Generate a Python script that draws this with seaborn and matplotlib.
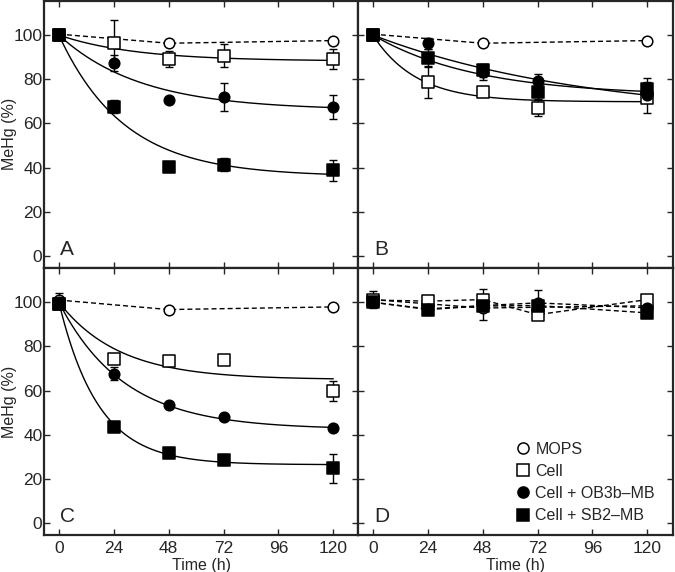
import numpy as np
import pandas as pd
import matplotlib
matplotlib.use("Agg")
import matplotlib.pyplot as plt
from matplotlib.lines import Line2D
import seaborn as sns

# ---------------- data ----------------
T_ALL = [0, 24, 48, 72, 120]
T_MOPS = [0, 48, 120]
PANELS = ["A", "B", "C", "D"]
SERIES = ["MOPS", "Cell", "Cell + OB3b\u2013MB", "Cell + SB2\u2013MB"]

# measured values (%), per panel
mops_A = [100.4, 96.3, 97.5]
cell_A = [100.0, 96.3, 89.3, 90.7, 89.3]
ob3b_A = [100.0, 87.4, 70.7, 72.0, 67.3]
sb2_A = [100.0, 67.6, 40.3, 41.4, 38.8]
mops_A_err = [0, 0, 0]
cell_A_err = [0, 10.5, 3.6, 5.1, 4.5]
ob3b_A_err = [0, 3.7, 0, 6.5, 5.5]
sb2_A_err = [0, 3.0, 0, 3.0, 4.8]

mops_B = [100.4, 96.3, 97.5]
cell_B = [100.0, 78.7, 74.2, 67.1, 71.6]
ob3b_B = [100.0, 96.3, 83.2, 79.0, 73.0]
sb2_B = [100.0, 89.7, 84.0, 74.2, 75.4]
mops_B_err = [0, 0, 0]
cell_B_err = [0, 7.4, 0, 3.5, 7.0]
ob3b_B_err = [0, 2.5, 3.5, 3.5, 0]
sb2_B_err = [0, 4.0, 3.0, 3.0, 5.3]

mops_C = [101.0, 96.7, 97.9]
cell_C = [99.0, 74.3, 73.4, 73.9, 60.0]
ob3b_C = [100.0, 67.7, 53.3, 48.3, 43.1]
sb2_C = [99.0, 43.5, 31.6, 28.7, 24.9]
mops_C_err = [3.0, 0, 0]
cell_C_err = [0, 0, 0, 0, 4.5]
ob3b_C_err = [0, 3.0, 0, 0, 1.5]
sb2_C_err = [0, 0, 0, 0, 6.5]

mops_D = [101.2, 97.4, 98.4]
cell_D = [101.0, 100.5, 101.2, 94.4, 101.2]
ob3b_D = [100.0, 97.0, 98.5, 99.7, 97.5]
sb2_D = [100.0, 96.7, 98.3, 98.5, 95.2]
mops_D_err = [3.8, 5.4, 0]
cell_D_err = [2.0, 0, 4.6, 0, 1.5]
ob3b_D_err = [0, 0, 0, 6.0, 0]
sb2_D_err = [0, 1.0, 0, 0, 1.0]

# first-order decay fit parameters: (plateau %, rate 1/h)
fit_A = {"Cell": (88.2, 0.030), "Cell + OB3b\u2013MB": (66.0, 0.028), "Cell + SB2\u2013MB": (36.0, 0.035)}
fit_B = {"Cell": (69.8, 0.053), "Cell + OB3b\u2013MB": (62.0, 0.0105), "Cell + SB2\u2013MB": (72.5, 0.022)}
fit_C = {"Cell": (65.0, 0.038), "Cell + OB3b\u2013MB": (42.5, 0.035), "Cell + SB2\u2013MB": (26.5, 0.058)}
fit_D = {}

X_TICKS = [0, 24, 48, 72, 96, 120]
Y_TICKS = [0, 20, 40, 60, 80, 100]

data = {
    "A": (mops_A, cell_A, ob3b_A, sb2_A, mops_A_err, cell_A_err, ob3b_A_err, sb2_A_err, fit_A),
    "B": (mops_B, cell_B, ob3b_B, sb2_B, mops_B_err, cell_B_err, ob3b_B_err, sb2_B_err, fit_B),
    "C": (mops_C, cell_C, ob3b_C, sb2_C, mops_C_err, cell_C_err, ob3b_C_err, sb2_C_err, fit_C),
    "D": (mops_D, cell_D, ob3b_D, sb2_D, mops_D_err, cell_D_err, ob3b_D_err, sb2_D_err, fit_D),
}

# ---------------- style ----------------
sns.set_style("ticks")
plt.rcParams["font.family"] = ["Liberation Sans", "DejaVu Sans"]
plt.rcParams["font.size"] = 11.5

marker_style = {
    "MOPS": dict(marker="o", face="white", s=58),
    "Cell": dict(marker="s", face="white", s=64),
    "Cell + OB3b\u2013MB": dict(marker="o", face="black", s=58),
    "Cell + SB2\u2013MB": dict(marker="s", face="black", s=64),
}
DASH = (0, (3.6, 2.2))

fig, axes = plt.subplots(2, 2, figsize=(6.75, 5.72), dpi=100, sharex=True, sharey=True)
fig.subplots_adjust(left=0.0659, right=0.9963, top=0.999, bottom=0.0647, wspace=0, hspace=0)

for ax, p in zip(axes.flat, PANELS):
    mops, cell, ob3b, sb2, e_m, e_c, e_o, e_s, fit = data[p]
    vals = {"MOPS": (T_MOPS, mops, e_m), "Cell": (T_ALL, cell, e_c),
            "Cell + OB3b\u2013MB": (T_ALL, ob3b, e_o), "Cell + SB2\u2013MB": (T_ALL, sb2, e_s)}

    # lines: dashed connections or fitted curves
    for name in SERIES:
        t, v, e = vals[name]
        if name in fit:
            a, k = fit[name]
            tt = np.linspace(0, 120, 300)
            yy = a + (100 - a) * np.exp(-k * tt)
            sns.lineplot(x=tt, y=yy, ax=ax, color="black", lw=1.0, zorder=2)
        else:
            sns.lineplot(x=t, y=v, ax=ax, color="black", lw=1.0, linestyle=DASH, zorder=2)

    # error bars
    for name in SERIES:
        t, v, e = vals[name]
        ax.errorbar(t, v, yerr=e, fmt="none", ecolor="black", elinewidth=1.0,
                    capsize=3, capthick=1.0, zorder=3)

    # markers
    for name in SERIES:
        t, v, e = vals[name]
        st = marker_style[name]
        df = pd.DataFrame({"t": t, "v": v})
        sns.scatterplot(data=df, x="t", y="v", ax=ax, marker=st["marker"], s=st["s"],
                        color=st["face"], edgecolor="black", linewidth=1.1, zorder=4)

    ax.text(0.5, 0.5, p, fontsize=15, ha="left", va="baseline")

    ax.set_xlim(-6.3, 131)
    ax.set_ylim(-5.3, 115.6)
    ax.set_xticks(X_TICKS)
    ax.set_yticks(Y_TICKS)
    ax.tick_params(direction="in", top=True, right=True, length=4.5, width=1.0,
                   labelsize=12.5)
    ax.tick_params(axis="x", pad=4)
    ax.tick_params(axis="y", pad=1.5)
    for sp in ax.spines.values():
        sp.set_linewidth(1.6)
    ax.set_xlabel("")
    ax.set_ylabel("")

for ax in axes[:, 0]:
    ax.set_ylabel("MeHg (%)", fontsize=11.5)
    ax.yaxis.set_label_coords(-0.088, 0.5)
for ax in axes[1, :]:
    ax.set_xlabel("Time (h)", fontsize=11.5, labelpad=1.5)

handles = []
for name in SERIES:
    st = marker_style[name]
    handles.append(Line2D([], [], linestyle="none", marker=st["marker"],
                          markersize=8 if st["marker"] == "o" else 8.3,
                          markerfacecolor=st["face"], markeredgecolor="black",
                          markeredgewidth=1.1))
axes[1, 1].legend(handles, SERIES, loc="lower right", bbox_to_anchor=(0.965, 0.02),
                  frameon=False, handletextpad=0.3, handlelength=1.0,
                  labelspacing=0.45, fontsize=11.5, borderaxespad=0)

fig.savefig("out.png", dpi=100)
